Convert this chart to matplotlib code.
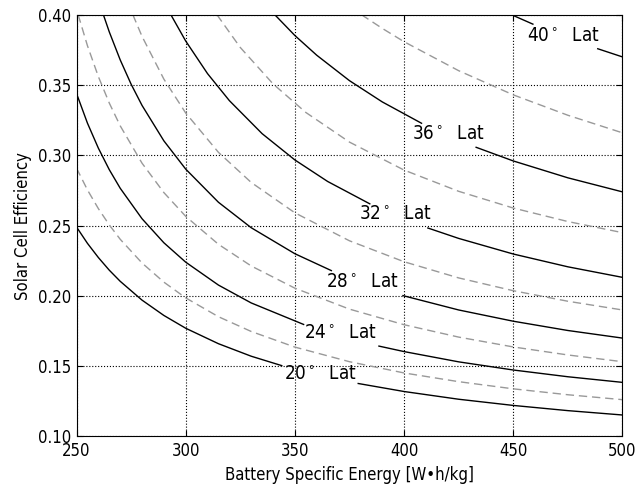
import numpy as np
import matplotlib
matplotlib.use('Agg')
import matplotlib.pyplot as plt

plt.rcParams['font.family'] = 'DejaVu Sans'
plt.rcParams['font.stretch'] = 'condensed'
plt.rcParams['font.size'] = 12

nan = np.nan

# latitude contours; nan leaves the gap for the inline label
lat20_x = [250, 255, 260, 265, 270, 280, 290, 300, 315, 330, 344, nan, 379, 400, 425, 450, 475, 500]
lat20_y = [0.2490, 0.2374, 0.2273, 0.2183, 0.2104, 0.1970, 0.1861, 0.1770, 0.1660, 0.1571, 0.1504, nan,
           0.1377, 0.1320, 0.1265, 0.1221, 0.1184, 0.1153]

lat22_x = [250, 255, 260, 265, 270, 280, 290, 300, 315, 330, 350, 375, 400, 425, 450, 475, 500]
lat22_y = [0.2909, 0.2754, 0.2621, 0.2505, 0.2403, 0.2234, 0.2098, 0.1986, 0.1852, 0.1747, 0.1636, 0.1532,
           0.1452, 0.1390, 0.1339, 0.1297, 0.1262]

lat24_x = [250, 255, 260, 265, 270, 280, 290, 300, 315, 330, 354, nan, 388.5, 400, 425, 450, 475, 500]
lat24_y = [0.3440, 0.3229, 0.3051, 0.2898, 0.2766, 0.2549, 0.2378, 0.2240, 0.2077, 0.1950, 0.1797, nan,
           0.1643, 0.1604, 0.1531, 0.1473, 0.1425, 0.1385]

lat26_x = [250.75, 255, 260, 265, 270, 280, 290, 300, 315, 330, 350, 375, 400, 425, 450, 475, 500]
lat26_y = [0.4000, 0.3780, 0.3560, 0.3372, 0.3210, 0.2944, 0.2735, 0.2566, 0.2367, 0.2213, 0.2055, 0.1906,
           0.1795, 0.1707, 0.1637, 0.1580, 0.1532]

lat28_x = [262.3, 265, 270, 275, 280, 290, 300, 315, 330, 350, 366.7, nan, 399.5, 425, 450, 475, 500]
lat28_y = [0.4000, 0.3878, 0.3679, 0.3506, 0.3355, 0.3103, 0.2902, 0.2666, 0.2485, 0.2300, 0.2180, nan,
           0.2002, 0.1900, 0.1820, 0.1754, 0.1700]

lat30_x = [275.8, 280, 290, 300, 315, 330, 350, 375, 400, 425, 450, 475, 500]
lat30_y = [0.4000, 0.3846, 0.3542, 0.3301, 0.3021, 0.2807, 0.2591, 0.2392, 0.2243, 0.2128, 0.2037, 0.1962,
           0.1900]

lat32_x = [293.2, 300, 310, 320, 335, 350, 365, 384.3, nan, 410.9, 425, 450, 475, 500]
lat32_y = [0.4000, 0.3813, 0.3581, 0.3389, 0.3154, 0.2967, 0.2814, 0.2655, nan, 0.2483, 0.2409, 0.2298,
           0.2207, 0.2132]

lat34_x = [314.3, 325, 340, 355, 375, 400, 425, 450, 475, 500]
lat34_y = [0.4000, 0.3767, 0.3508, 0.3305, 0.3094, 0.2895, 0.2744, 0.2625, 0.2529, 0.2450]

lat36_x = [340.8, 350, 360, 375, 390, 408, nan, 433, 450, 475, 500]
lat36_y = [0.4000, 0.3852, 0.3712, 0.3531, 0.3380, 0.3228, nan, 0.3057, 0.2960, 0.2840, 0.2740]

lat38_x = [380.5, 390, 400, 425, 450, 475, 500]
lat38_y = [0.4000, 0.3903, 0.3808, 0.3602, 0.3430, 0.3285, 0.3160]

lat40_x = [449.2, 459, nan, 488.7, 500]
lat40_y = [0.4000, 0.3933, nan, 0.3758, 0.3700]

solid = [(lat20_x, lat20_y), (lat24_x, lat24_y), (lat28_x, lat28_y),
         (lat32_x, lat32_y), (lat36_x, lat36_y), (lat40_x, lat40_y)]
dashed = [(lat22_x, lat22_y), (lat26_x, lat26_y), (lat30_x, lat30_y),
          (lat34_x, lat34_y), (lat38_x, lat38_y)]

label_lat = [20, 24, 28, 32, 36, 40]
label_x = [361.6, 370.8, 381.0, 396.2, 420.3, 473.0]
label_y = [0.1445, 0.1739, 0.2101, 0.2588, 0.3157, 0.3849]

xticks = [250, 300, 350, 400, 450, 500]
yticks = [0.10, 0.15, 0.20, 0.25, 0.30, 0.35, 0.40]

fig = plt.figure(figsize=(6.43, 4.94), dpi=100)
ax = fig.add_axes([0.119, 0.1164, 0.849, 0.8538])

for xs, ys in dashed:
    ax.plot(xs, ys, color='0.6', lw=1, linestyle=(0, (6, 3.5)))
for xs, ys in solid:
    ax.plot(xs, ys, color='k', lw=1)

for lat, x, y in zip(label_lat, label_x, label_y):
    ax.text(x, y, str(lat) + r'$^\circ$  Lat', ha='center', va='center', fontsize=13.5)

ax.set_xlim(250, 500)
ax.set_ylim(0.10, 0.40)
ax.set_xticks(xticks)
ax.set_yticks(yticks)
ax.set_yticklabels(['%.2f' % v for v in yticks])
ax.grid(True, color='k', linestyle=':', lw=0.8)
ax.tick_params(direction='in', top=True, right=True, length=4, pad=4)
ax.set_xlabel('Battery Specific Energy [W•h/kg]')
ax.set_ylabel('Solar Cell Efficiency')

fig.savefig('out.png', dpi=100)
